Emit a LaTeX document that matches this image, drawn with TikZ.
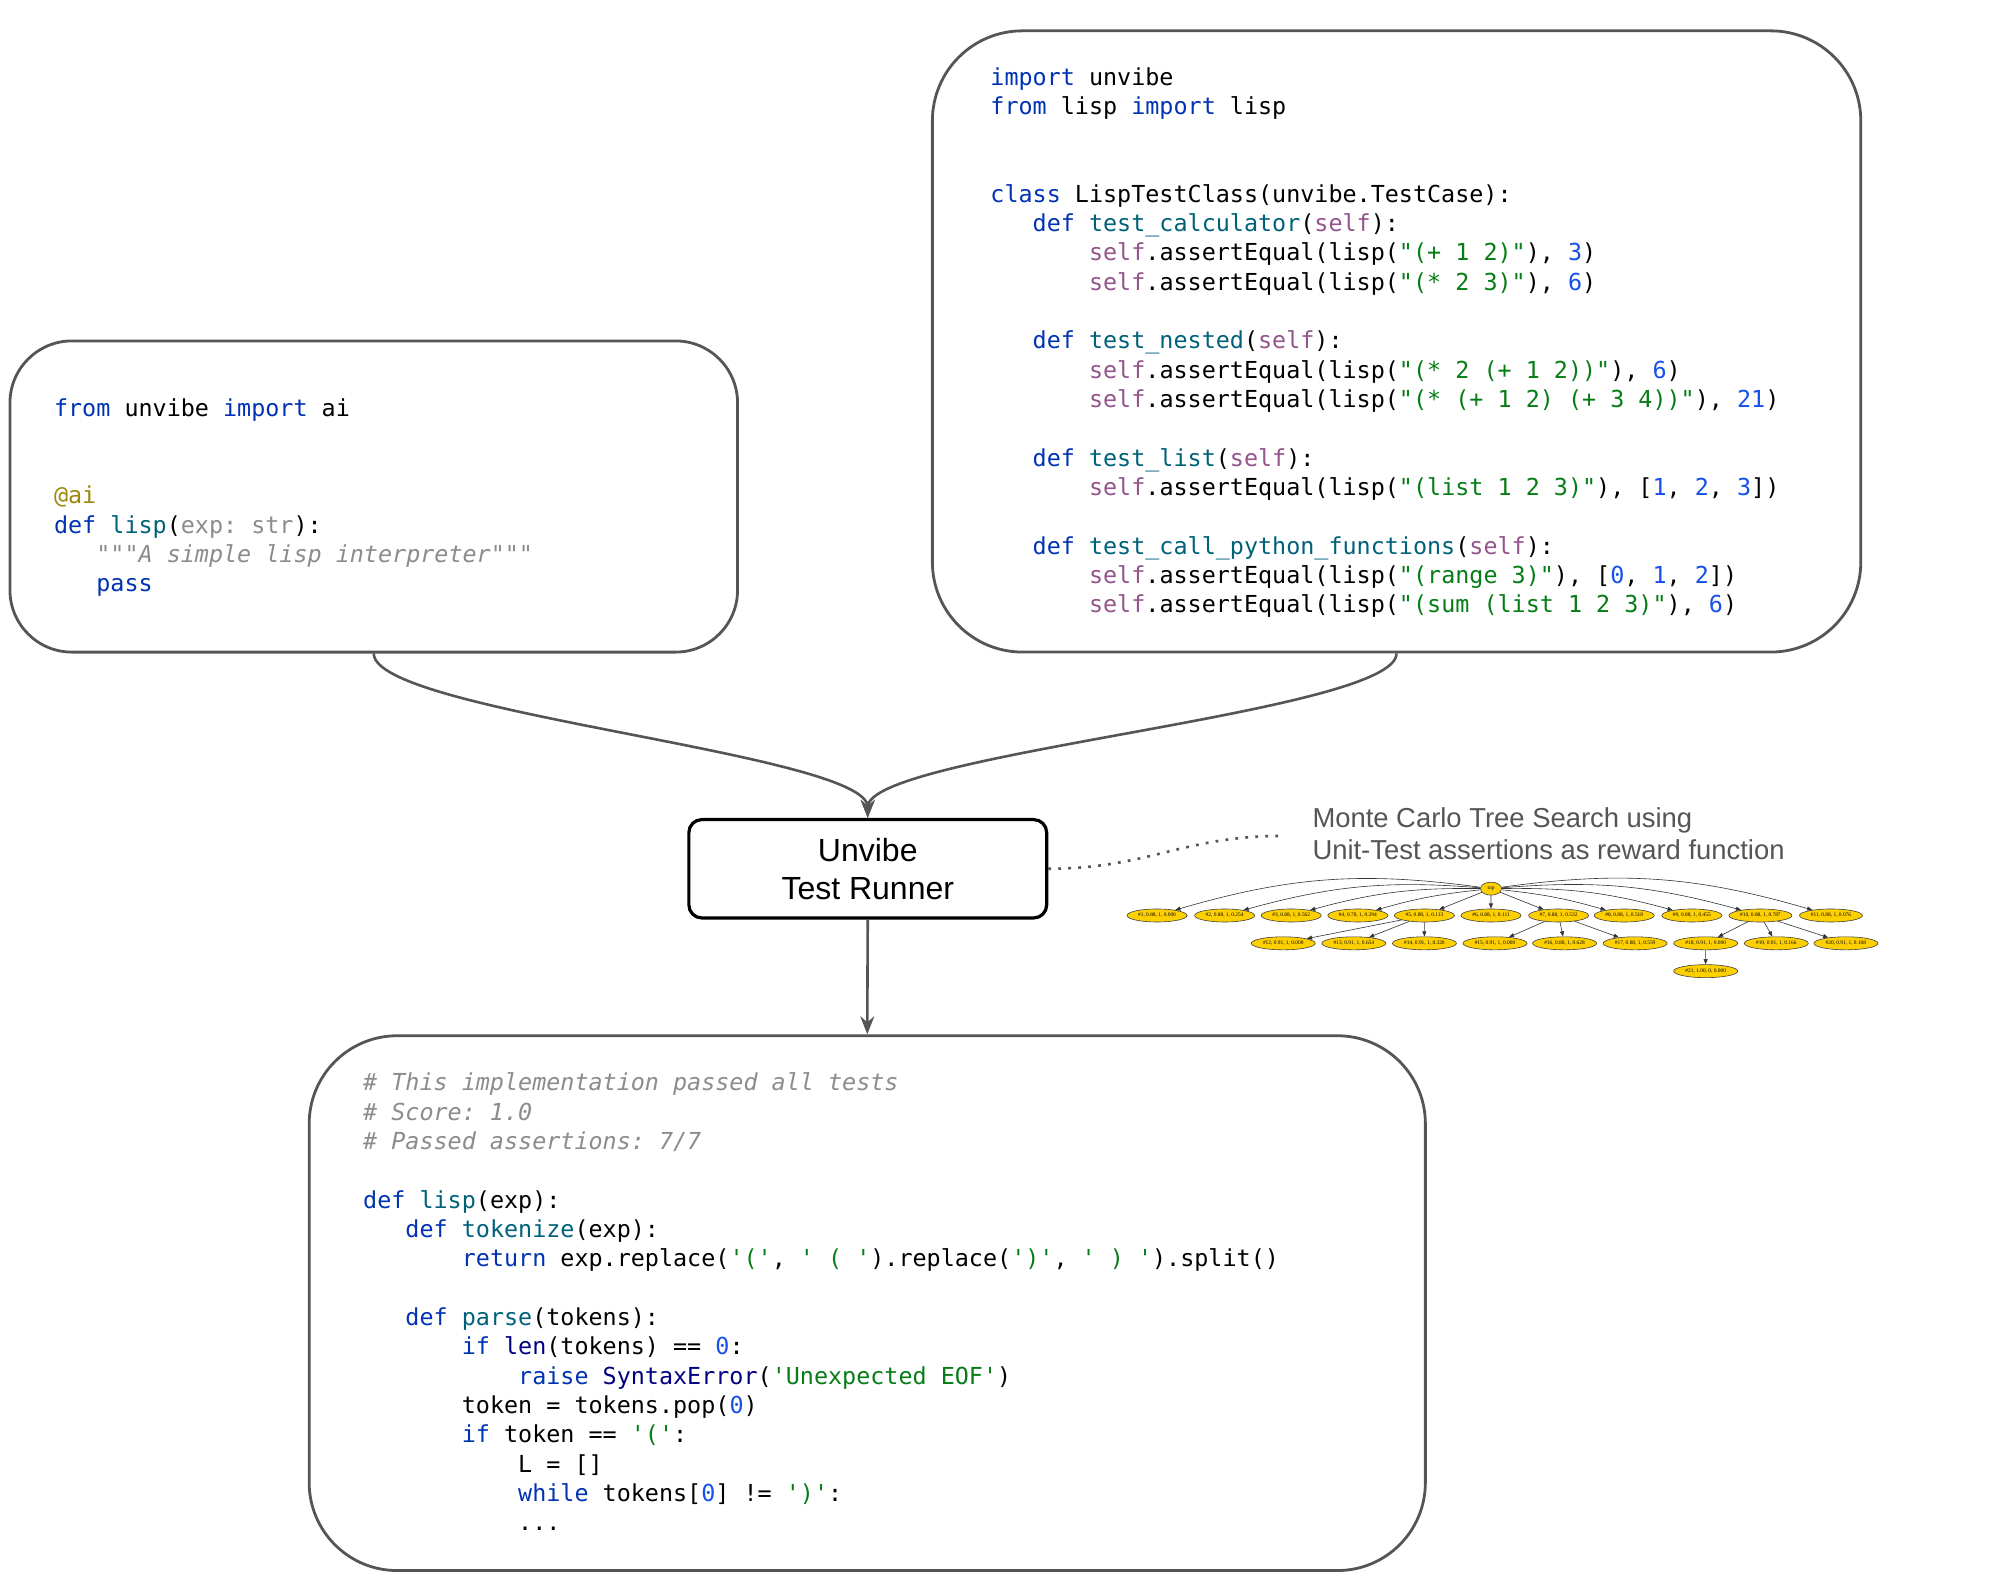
\documentclass[tikz,border=0pt]{standalone}
\usepackage{fontspec}
\setmainfont{Liberation Sans}
\setmonofont{DejaVu Sans Mono}
\newfontfamily\treefont{Liberation Serif}
\usetikzlibrary{arrows.meta,shapes.geometric}
\definecolor{kwc}{HTML}{0033B3}
\definecolor{fnc}{HTML}{00627A}
\definecolor{slfc}{HTML}{94558D}
\definecolor{strc}{HTML}{067D17}
\definecolor{numc}{HTML}{1750EB}
\definecolor{cmc}{HTML}{8C8C8C}
\definecolor{dcc}{HTML}{9E880D}
\definecolor{bic}{HTML}{000080}
\definecolor{edgec}{HTML}{555555}
\definecolor{goldc}{HTML}{FFD000}
\newlength\cw
\setlength\cw{7.044pt}
\newcommand\ind[1]{\hspace*{#1\cw}}
\newcommand\ckw[1]{\textcolor{kwc}{#1}}
\newcommand\cfn[1]{\textcolor{fnc}{#1}}
\newcommand\cslf[1]{\textcolor{slfc}{#1}}
\newcommand\cstr[1]{\textcolor{strc}{#1}}
\newcommand\cnum[1]{\textcolor{numc}{#1}}
\newcommand\ccom[1]{\textcolor{cmc}{\itshape #1}}
\newcommand\cann[1]{\textcolor{cmc}{#1}}
\newcommand\cdec[1]{\textcolor{dcc}{#1}}
\newcommand\cbi[1]{\textcolor{bic}{#1}}
\newcommand\firstl{\rule{0pt}{10pt}}
\begin{document}
\begin{tikzpicture}[x=0.5pt,y=0.5pt,
  bigbox/.style={draw=edgec, line width=1.4pt, inner sep=0pt, rectangle},
  code/.style={anchor=north west, inner sep=0pt, align=left, font=\ttfamily\fontsize{11.7}{14.66}\selectfont},
  tnode/.style={ellipse, draw=black!75, line width=0.3pt, fill=goldc, inner sep=0pt, minimum height=6.5pt, minimum width=30pt, font=\treefont\fontsize{2.7}{3}\selectfont},
  tedge/.style={draw=black!80, line width=0.3pt, -{Triangle[length=2.6pt,width=2pt]}},
  conn/.style={draw=edgec, line width=1.3pt, -{Stealth[length=9pt,width=7pt,inset=3pt]}},
  anntext/.style={anchor=base west, inner sep=0pt, text=edgec, font=\fontsize{13.7}{16}\selectfont}
]
\fill[white] (0,0) rectangle (2000,-1584);
\useasboundingbox (0,0) rectangle (2000,-1584);

\begin{scope}[scale=0.994]
% boxes
\node[bigbox, rounded corners=31pt, minimum width=363.8pt, minimum height=155.6pt] (lbox) at (376,-499.5) {};
\node[bigbox, rounded corners=45pt, minimum width=464.2pt, minimum height=310.6pt] (rbox) at (1405,-343.5) {};
\node[bigbox, rounded corners=44pt, minimum width=558.1pt, minimum height=267.4pt] (bbox) at (872.5,-1311) {};
\node[draw=black, line width=1.6pt, rounded corners=6.5pt, minimum width=178.9pt, minimum height=49.2pt, align=center, font=\fontsize{16}{19}\selectfont] (unv) at (873,-874) {Unvibe\\Test Runner};

% code
\node[code] (lcode) at (54,-398) {\firstl\ckw{from} unvibe \ckw{import} ai\\
~\\
~\\
\cdec{@ai}\\
\ckw{def} \cfn{lisp}(\cann{exp: str}):\\
\ind{3}\ccom{"""A simple lisp interpreter"""}\\
\ind{3}\ckw{pass}};

\node[code] (rcode) at (996,-65) {\firstl\ckw{import} unvibe\\
\ckw{from} lisp \ckw{import} lisp\\
~\\
~\\
\ckw{class} LispTestClass(unvibe.TestCase):\\
\ind{3}\ckw{def} \cfn{test\_calculator}(\cslf{self}):\\
\ind{7}\cslf{self}.assertEqual(lisp(\cstr{"(+ 1 2)"}), \cnum{3})\\
\ind{7}\cslf{self}.assertEqual(lisp(\cstr{"(* 2 3)"}), \cnum{6})\\
~\\
\ind{3}\ckw{def} \cfn{test\_nested}(\cslf{self}):\\
\ind{7}\cslf{self}.assertEqual(lisp(\cstr{"(* 2 (+ 1 2))"}), \cnum{6})\\
\ind{7}\cslf{self}.assertEqual(lisp(\cstr{"(* (+ 1 2) (+ 3 4))"}), \cnum{21})\\
~\\
\ind{3}\ckw{def} \cfn{test\_list}(\cslf{self}):\\
\ind{7}\cslf{self}.assertEqual(lisp(\cstr{"(list 1 2 3)"}), [\cnum{1}, \cnum{2}, \cnum{3}])\\
~\\
\ind{3}\ckw{def} \cfn{test\_call\_python\_functions}(\cslf{self}):\\
\ind{7}\cslf{self}.assertEqual(lisp(\cstr{"(range 3)"}), [\cnum{0}, \cnum{1}, \cnum{2}])\\
\ind{7}\cslf{self}.assertEqual(lisp(\cstr{"(sum (list 1 2 3)"}), \cnum{6})};

\node[code] (bcode) at (365,-1077) {\firstl\ccom{\# This implementation passed all tests}\\
\ccom{\# Score: 1.0}\\
\ccom{\# Passed assertions: 7/7}\\
~\\
\ckw{def} \cfn{lisp}(exp):\\
\ind{3}\ckw{def} \cfn{tokenize}(exp):\\
\ind{7}\ckw{return} exp.replace(\cstr{'('}, \cstr{' ( '}).replace(\cstr{')'}, \cstr{' ) '}).split()\\
~\\
\ind{3}\ckw{def} \cfn{parse}(tokens):\\
\ind{7}\ckw{if} \cbi{len}(tokens) == \cnum{0}:\\
\ind{11}\ckw{raise} \cbi{SyntaxError}(\cstr{'Unexpected EOF'})\\
\ind{7}token = tokens.pop(\cnum{0})\\
\ind{7}\ckw{if} token == \cstr{'('}:\\
\ind{11}L = []\\
\ind{11}\ckw{while} tokens[\cnum{0}] != \cstr{')'}:\\
\ind{11}...};

% connectors
\draw[conn] (lbox.south) .. controls +(0,-60) and +(0,65) .. (unv.north);
\draw[conn] (rbox.south) .. controls +(0,-60) and +(0,65) .. (unv.north);
\draw[conn] (unv.south) -- (bbox.north);

% annotation
\coordinate (dotend) at (1290,-841);
\draw[edgec, line width=1.3pt, dash pattern=on 1.4pt off 3.6pt] (unv.east) .. controls +(100,0) and +(-100,0) .. (dotend);
\node[anntext] (ann1) at (1320,-832) {Monte Carlo Tree Search using};
\node[anntext] (ann2) at (1320,-865) {Unit-Test assertions as reward function};

% tree
\node[tnode, minimum width=10.5pt] (top) at (1500,-894) {top};
\node[tnode] (t1) at (1164,-921) {\#1, 0.88, 1, 0.000};
\node[tnode] (t2) at (1232,-921) {\#2, 0.88, 1, 0.254};
\node[tnode] (t3) at (1299,-921) {\#3, 0.88, 1, 0.562};
\node[tnode] (t4) at (1366,-921) {\#4, 0.78, 1, 0.294};
\node[tnode] (t5) at (1433,-921) {\#5, 0.88, 1, 0.113};
\node[tnode] (t6) at (1500,-921) {\#6, 0.88, 1, 0.111};
\node[tnode] (t7) at (1568,-921) {\#7, 0.88, 1, 0.532};
\node[tnode] (t8) at (1634,-921) {\#8, 0.88, 1, 0.518};
\node[tnode] (t9) at (1702,-921) {\#9, 0.88, 1, 0.455};
\node[tnode, minimum width=31.5pt] (t10) at (1771,-921) {\#10, 0.88, 1, 0.787};
\node[tnode, minimum width=31.5pt] (t11) at (1842,-921) {\#11, 0.88, 1, 0.076};
\node[tnode, minimum width=32pt] (t12) at (1291,-949) {\#12, 0.91, 1, 0.000};
\node[tnode, minimum width=32pt] (t13) at (1362,-949) {\#13, 0.91, 1, 0.654};
\node[tnode, minimum width=32pt] (t14) at (1433,-949) {\#14, 0.91, 1, 0.320};
\node[tnode, minimum width=32pt] (t15) at (1504,-949) {\#15, 0.91, 1, 0.000};
\node[tnode, minimum width=32pt] (t16) at (1574,-949) {\#16, 0.88, 1, 0.628};
\node[tnode, minimum width=32pt] (t17) at (1645,-949) {\#17, 0.88, 1, 0.559};
\node[tnode, minimum width=32pt] (t18) at (1716,-949) {\#18, 0.91, 1, 0.000};
\node[tnode, minimum width=32pt] (t19) at (1787,-949) {\#19, 0.91, 1, 0.166};
\node[tnode, minimum width=32pt] (t20) at (1857,-949) {\#20, 0.91, 1, 0.108};
\node[tnode, minimum width=32pt] (t21) at (1716,-977) {\#21, 1.00, 0, 0.000};

\draw[tedge] (top) to[bend right=12] (t1);
\draw[tedge] (top) to[bend right=10] (t2);
\draw[tedge] (top) to[bend right=8] (t3);
\draw[tedge] (top) to[bend right=5] (t4);
\draw[tedge] (top) -- (t5);
\draw[tedge] (top) -- (t6);
\draw[tedge] (top) -- (t7);
\draw[tedge] (top) to[bend left=5] (t8);
\draw[tedge] (top) to[bend left=8] (t9);
\draw[tedge] (top) to[bend left=10] (t10);
\draw[tedge] (top) to[bend left=12] (t11);
\draw[tedge] (t5) -- (t12);
\draw[tedge] (t5) -- (t13);
\draw[tedge] (t5) -- (t14);
\draw[tedge] (t7) -- (t15);
\draw[tedge] (t7) -- (t16);
\draw[tedge] (t7) -- (t17);
\draw[tedge] (t10) -- (t18);
\draw[tedge] (t10) -- (t19);
\draw[tedge] (t10) -- (t20);
\draw[tedge] (t18) -- (t21);
\end{scope}
\end{tikzpicture}
\end{document}
